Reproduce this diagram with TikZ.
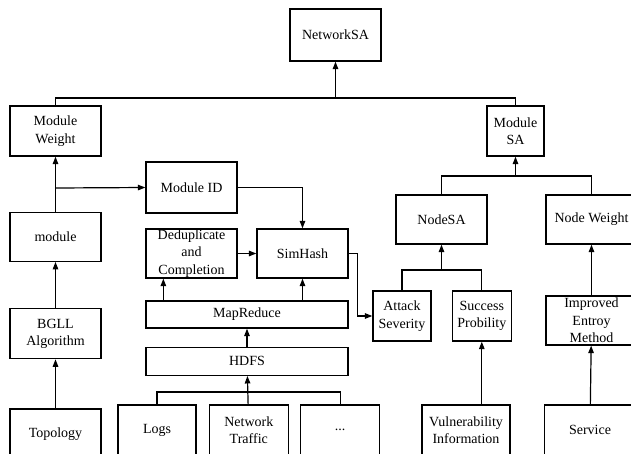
\documentclass[tikz,border=0pt]{standalone}
\usepackage{fontspec}
\setmainfont{Liberation Serif}
\usetikzlibrary{arrows.meta, positioning}

\begin{document}
\begin{tikzpicture}[
    x=1pt, y=-1pt,
    node distance=18pt and 12pt,
    box/.style={rectangle, draw=black, line width=1.3pt, minimum width=91pt, minimum height=50pt,
                align=center, inner sep=0pt, font=\fontsize{14}{17.3}\selectfont},
    arr/.style={-{Triangle[length=7.5pt, width=5.5pt]}, line width=1.2pt},
    wire/.style={line width=1.2pt},
]
\useasboundingbox (0,0) rectangle (631,453);

% Top level
\node[box, minimum height=52pt] (net) at (335.5,35) {NetworkSA};
\node[box] (mweight) at (55.5,131) {Module\\Weight};
\node[box, minimum width=57pt] (msa) at (515.5,131) {Module\\SA};

% Module column
\node[box, minimum height=49pt, below=55pt of mweight] (module) {module};
\node[box, below=46pt of module] (bgll) {BGLL\\Algorithm};
\node[box, below=49pt of bgll] (topology) {Topology};

% Data processing
\node[box, minimum height=51pt] (mid) at (191.5,187.5) {Module ID};
\node[box, minimum height=49pt] (dedup) at (191.5,253.5) {Deduplicate\\and\\Completion};
\node[box, minimum height=49pt] (simhash) at (302.5,253.5) {SimHash};
\node[box, minimum width=202pt, minimum height=27pt] (mapred) at (247,314.5) {MapReduce};
\node[box, minimum width=202pt, minimum height=28pt, below=18pt of mapred] (hdfs) {HDFS};

% Data sources
\node[box, minimum width=78pt] (logs) at (157,430) {Logs};
\node[box, minimum width=79pt, right=12pt of logs] (traffic) {Network\\Traffic};
\node[box, minimum width=79pt, right=11pt of traffic] (dots) {...};

% Node situation
\node[box, minimum height=49pt] (nodesa) at (441.5,219.5) {NodeSA};
\node[box, minimum height=49pt] (nweight) at (591.5,219.5) {Node Weight};
\node[box, minimum width=58pt] (attack) at (402,316) {Attack\\Severity};
\node[box, minimum width=59pt, right=20pt of attack] (success) {Success\\Probility};
\node[box, minimum height=49pt] (improved) at (591.5,320.5) {Improved\\Entroy\\Method};
\node[box, minimum width=88pt] (vuln) at (466,430) {Vulnerability\\Information};
\node[box] (service) at (590,430) {Service};

% Junctions
\coordinate (topbus) at (335.5,98);
\coordinate (msabus) at (515.5,176);
\coordinate (nsabus) at (441.5,270);
\coordinate (srcbus) at (247,392);
\coordinate (split) at (55.5,188);
\coordinate (dedupin) at ([xshift=18pt]dedup.south west);

% Top tree
\draw[wire] (mweight.north) |- (topbus) -| (msa.north);
\draw[arr] (topbus) -- (net.south);
\draw[wire] (nodesa.north) |- (msabus) -| (nweight.north);
\draw[arr] (msabus) -- (msa.south);

% Module column arrows
\draw[arr] (topology) -- (bgll);
\draw[arr] (bgll) -- (module);
\draw[arr] (module) -- (mweight);
\draw[arr] (split) -- (mid.west);

% Processing arrows
\draw[arr] (mid.east) -| (simhash.north);
\draw[arr] (dedup) -- (simhash);
\draw[arr] (mapred.north -| dedupin) -- (dedupin);
\draw[arr] (mapred.north -| simhash.south) -- (simhash.south);
\draw[arr] (hdfs) -- (mapred);
\draw[wire] (logs.north) |- (srcbus) -| (dots.north);
\draw[arr] (traffic) -- (hdfs);
\draw[arr] (simhash.east) -- ++(9,0) |- (attack.west);

% Node situation arrows
\draw[wire] (attack.north) |- (nsabus) -| (success.north);
\draw[arr] (nsabus) -- (nodesa.south);
\draw[arr] (vuln.north -| success.south) -- (success.south);
\draw[arr] (improved) -- (nweight);
\draw[arr] (service) -- (improved);

\end{tikzpicture}
\end{document}
